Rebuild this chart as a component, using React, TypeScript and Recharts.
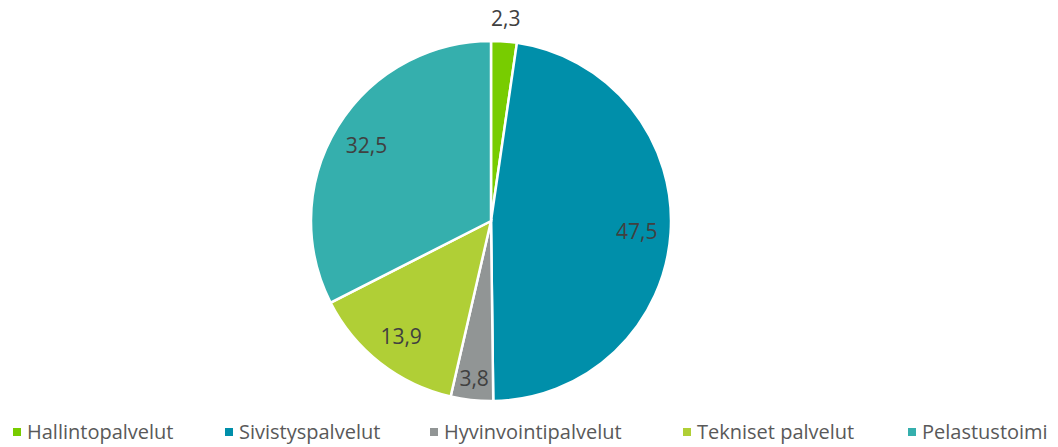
import React from "react";
import { PieChart, Pie, Cell, Legend } from "recharts";

const categories = ["Hallintopalvelut", "Sivistyspalvelut", "Hyvinvointipalvelut", "Tekniset palvelut", "Pelastustoimi"];
const shares = [2.3, 47.5, 3.8, 13.9, 32.5];
const colors = ["#78CC00", "#008FAA", "#919595", "#B0CF36", "#35AFAD"];
const legendX = [13, 225, 430, 683, 908];

const data = categories.map((name, i) => ({ name, value: shares[i] }));

const RAD = Math.PI / 180;

const renderLabel = (props: any) => {
  const { cx, cy, midAngle, outerRadius, value } = props;
  // small slices get pushed out, like Excel's best fit
  const r = value < 3 ? outerRadius + 24 : value < 5 ? outerRadius - 22 : outerRadius - 34;
  const x = cx + r * Math.cos(-midAngle * RAD);
  const y = cy + r * Math.sin(-midAngle * RAD);
  return (
    <text
      x={x}
      y={y}
      fill="#404040"
      fontSize={21}
      fontFamily="Open Sans, sans-serif"
      textAnchor="middle"
      dominantBaseline="central"
    >
      {String(value).replace(".", ",")}
    </text>
  );
};

const renderLegend = () => (
  <div style={{ position: "relative", width: 1058, height: 26 }}>
    {categories.map((name, i) => (
      <div
        key={name}
        style={{
          position: "absolute",
          left: legendX[i],
          top: 0,
          display: "flex",
          alignItems: "center",
          fontFamily: "Open Sans, sans-serif",
          fontSize: 20,
          color: "#595959",
          whiteSpace: "nowrap",
          lineHeight: "26px",
        }}
      >
        <span style={{ width: 8, height: 8, background: colors[i], marginRight: 6, display: "inline-block" }} />
        {name}
      </div>
    ))}
  </div>
);

export default function App() {
  return (
    <div style={{ position: "absolute", left: 0, top: 0, background: "#fff" }}>
      <PieChart width={1058} height={447} margin={{ top: 0, right: 0, bottom: 0, left: 0 }}>
        <Pie
          data={data}
          dataKey="value"
          nameKey="name"
          cx={491}
          cy={221}
          outerRadius={180}
          startAngle={90}
          endAngle={-270}
          stroke="#fff"
          strokeWidth={2.5}
          label={renderLabel}
          labelLine={false}
          isAnimationActive={false}
        >
          {data.map((d, i) => (
            <Cell key={d.name} fill={colors[i]} />
          ))}
        </Pie>
        <Legend
          content={renderLegend}
          verticalAlign="bottom"
          wrapperStyle={{ left: 0, bottom: 2, width: 1058 }}
        />
      </PieChart>
    </div>
  );
}
